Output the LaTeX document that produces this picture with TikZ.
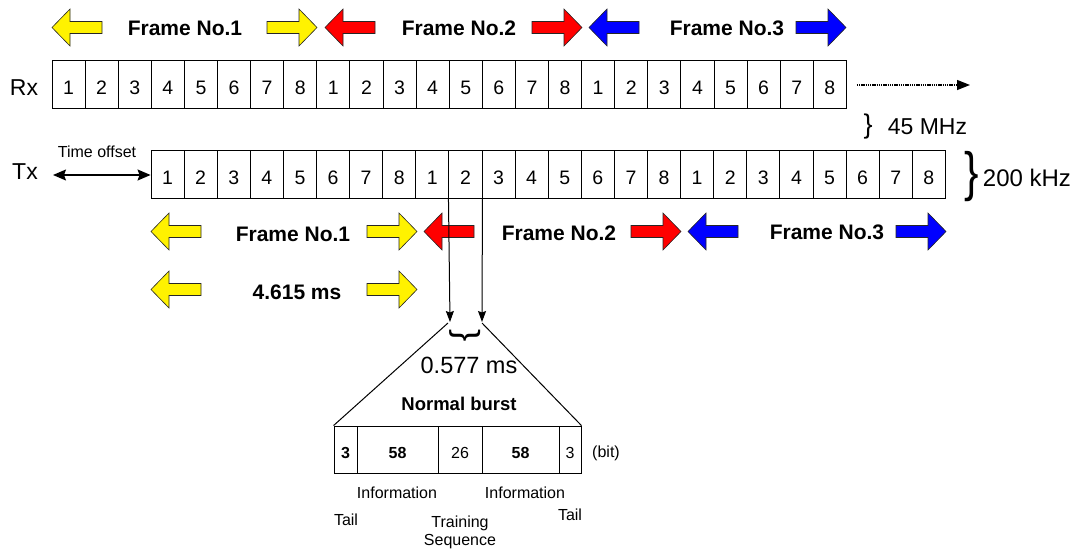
\documentclass[tikz,border=0pt]{standalone}
\usepackage{fontspec}
\setmainfont{Liberation Sans}
\usetikzlibrary{arrows.meta}
\newcommand\fsz[1]{\fontsize{#1}{#1}\selectfont}
% block arrows: tip x, centre y, fill colour
\newcommand\blkL[3]{\filldraw[blk, fill=#3] (#1,#2) -- (#1+18,#2-18.5) -- (#1+18,#2-6) -- (#1+50,#2-6) -- (#1+50,#2+6) -- (#1+18,#2+6) -- (#1+18,#2+18.5) -- cycle;}
\newcommand\blkR[3]{\filldraw[blk, fill=#3] (#1,#2) -- (#1-18,#2-18.5) -- (#1-18,#2-6) -- (#1-50,#2-6) -- (#1-50,#2+6) -- (#1-18,#2+6) -- (#1-18,#2+18.5) -- cycle;}
\begin{document}
\begin{tikzpicture}[x=1pt,y=-1pt,line width=0.9pt,
  blk/.style={draw=black!85,line width=0.6pt,line join=miter},
  cell/.style={draw,inner sep=0pt,minimum width=33.1pt,minimum height=48pt,text height=34pt,text depth=14pt,font=\fsz{19.5}},
  bcell/.style={draw,inner sep=0pt,minimum height=47pt,text height=32.75pt,text depth=14.25pt,font=\fsz{16}},
  ftxt/.style={inner sep=0pt,font=\bfseries\fsz{21}},
  lbl/.style={inner sep=0pt,font=\fsz{16}},
  big/.style={inner sep=0pt,font=\fsz{23}},
  tipS/.style={-{Stealth[length=11pt,width=8pt,inset=1.5pt]}},
  offtip/.style={{Stealth[length=13pt,width=11pt,inset=2pt]}-{Stealth[length=13pt,width=11pt,inset=2pt]}}]
\useasboundingbox (0,0) rectangle (1087,549);

% ---------- Rx row ----------
\blkL{52}{27.5}{yellow}
\blkR{317}{27.5}{yellow}
\blkL{325}{27.5}{red}
\blkR{582}{27.5}{red}
\blkL{589}{27.5}{blue}
\blkR{846}{27.5}{blue}
\node[ftxt] (rf1) at (185,28) {Frame No.1};
\node[ftxt] (rf2) at (459,28) {Frame No.2};
\node[ftxt] (rf3) at (727,28) {Frame No.3};

\node[big] (rxl) at (24,88) {Rx};
\foreach \i in {0,...,23}{
  \pgfmathtruncatemacro\d{mod(\i,8)+1}
  \node[cell] (rx\i) at ({68.55+33.1*\i},84.5) {\d};
}
\coordinate (rxend) at (970,85);
\draw[dash pattern=on 1.4pt off 0.8pt,line width=1.4pt,-{Triangle[length=13pt,width=10pt]}] (rx23.east) ++(10,0.5) -- (rxend);

\node[inner sep=0pt,font=\fsz{27}] (br1) at (868,127) {\}};
\node[big] (f45) at (927.5,127) {45 MHz};

% ---------- Tx row ----------
\node[big] (txl) at (25,172) {Tx};
\foreach \i in {0,...,23}{
  \pgfmathtruncatemacro\d{mod(\i,8)+1}
  \node[cell] (tx\i) at ({167.55+33.1*\i},174) {\d};
}
\coordinate (toff) at (53,175);
\draw[offtip,line width=1.2pt] (toff) -- (toff -| tx0.west);
\node[lbl] (toffl) at (97,152) {Time offset};

\node[inner sep=0pt,font=\fsz{54},xscale=0.8] (br2) at (972,177) {\}};
\node[inner sep=0pt,font=\fsz{24}] (f200) at (1027,178) {200 kHz};

% ---------- Tx frame arrows ----------
\blkL{151}{231.5}{yellow}
\blkR{417}{231.5}{yellow}
\blkL{424}{231.5}{red}
\blkR{681}{231.5}{red}
\blkL{688}{231.5}{blue}
\blkR{946}{231.5}{blue}
\node[ftxt] (tf1) at (293,234) {Frame No.1};
\node[ftxt] (tf2) at (559,233) {Frame No.2};
\node[ftxt] (tf3) at (827,232) {Frame No.3};

\blkL{151}{289.5}{yellow}
\blkR{417}{289.5}{yellow}
\node[ftxt] (tms) at (297,292) {4.615 ms};

% ---------- burst ----------
\coordinate (apL) at (450,322);
\coordinate (apR) at (482,322);
\draw[tipS,line width=1pt] (tx9.south west) -- (apL);
\draw[tipS,line width=1pt] (tx9.south east) -- (apR);

\node[bcell,minimum width=23pt,font=\bfseries\fsz{16}] (b1) at (345.5,449.5) {3};
\node[bcell,minimum width=81pt,font=\bfseries\fsz{16}] (b2) at (397.5,449.5) {58};
\node[bcell,minimum width=44pt] (b3) at (460,449.5) {26};
\node[bcell,minimum width=77pt,font=\bfseries\fsz{16}] (b4) at (520.5,449.5) {58};
\node[bcell,minimum width=22pt] (b5) at (570,449.5) {3};

\draw[line width=1pt] (448,323) -- (b1.north west);
\draw[line width=1pt] (apR) ++(0,1) -- (b5.north east);

\node[inner sep=0pt,font=\fsz{37},rotate=-90,yscale=0.9] (br3) at (465.5,336) {\}};
\node[inner sep=0pt,font=\fsz{23.5}] (t577) at (469,365) {0.577 ms};
\node[inner sep=0pt,font=\bfseries\fsz{18.5}] (nb) at (459,404) {Normal burst};
\node[lbl] (bit) at (606,453) {(bit)};

\node[lbl] (inf1) at (397,493) {Information};
\node[lbl] (inf2) at (525,493) {Information};
\node[lbl] (tail1) at (346,520) {Tail};
\node[lbl] (tail2) at (570,515) {Tail};
\node[inner sep=0pt,align=center,font=\fontsize{16}{18}\selectfont] (trs) at (460,532) {Training\\Sequence};
\end{tikzpicture}
\end{document}
